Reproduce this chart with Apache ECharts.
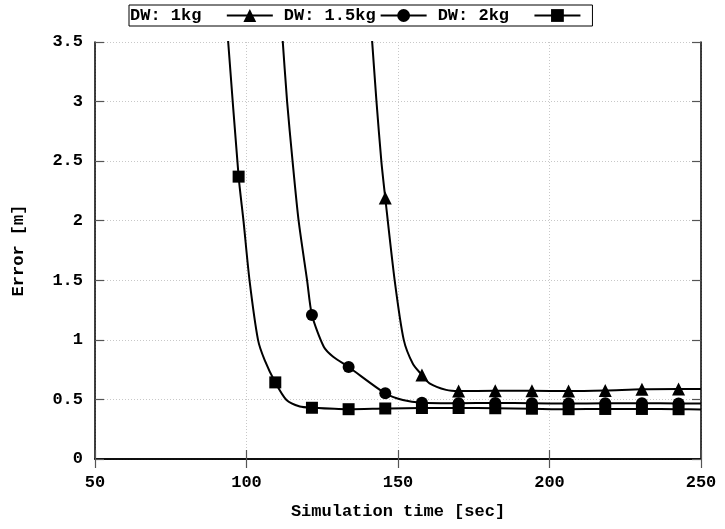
<!DOCTYPE html>
<html>
<head>
<meta charset="utf-8">
<script src="https://cdn.jsdelivr.net/npm/echarts@6/dist/echarts.min.js"></script>
<style>
html,body{margin:0;padding:0;background:#fff;}
#chart{width:725px;height:529px;}
</style>
</head>
<body>
<div id="chart"></div>
<script>
// Times (sec) at which markers are drawn
const markerTimes = [97.4, 109.5, 121.6, 133.7, 145.8, 157.9, 170.0, 182.1, 194.2, 206.3, 218.4, 230.5, 242.6];

// DW: 1kg (triangles)
const t1kg = [141.2, 142.9, 144.5, 145.8, 148.9, 151.9, 154.9, 157.9, 160.4, 165.9, 170.0, 182.1, 194.2, 206.3, 218.4, 230.5, 242.6, 250];
const e1kg = [3.6, 3.0, 2.5, 2.19, 1.5, 1.0, 0.80, 0.705, 0.635, 0.58, 0.57, 0.572, 0.573, 0.57, 0.575, 0.585, 0.587, 0.587];

// DW: 1.5kg (circles)
const t15kg = [111.7, 113.4, 115.2, 117.2, 120.0, 121.6, 125.5, 128.6, 133.7, 145.8, 151.6, 157.9, 170.0, 182.1, 194.2, 206.3, 218.4, 230.5, 242.6, 250];
const e15kg = [3.6, 3.0, 2.5, 2.0, 1.5, 1.208, 0.942, 0.858, 0.772, 0.551, 0.495, 0.472, 0.468, 0.47, 0.468, 0.465, 0.467, 0.468, 0.466, 0.465];

// DW: 2kg (squares)
const t2kg = [93.6, 97.4, 99.0, 101.0, 103.8, 106.0, 109.5, 113.2, 117.6, 121.6, 133.7, 145.8, 157.9, 170.0, 182.1, 194.2, 206.3, 218.4, 230.5, 242.6, 250];
const e2kg = [3.62, 2.37, 2.0, 1.5, 1.0, 0.83, 0.643, 0.495, 0.44, 0.43, 0.418, 0.424, 0.428, 0.428, 0.426, 0.422, 0.418, 0.42, 0.42, 0.418, 0.416];

const seriesNames = ['DW: 1kg', 'DW: 1.5kg', 'DW: 2kg'];
const xTicks = {min: 50, max: 250, step: 50};
const yTicks = {min: 0, max: 3.5, step: 0.5};

const FONT = 'Liberation Mono';

function build(ts, es) {
  return ts.map(function (t, i) {
    if (markerTimes.indexOf(t) >= 0) return [t, es[i]];
    return {value: [t, es[i]], symbol: 'none'};
  });
}

function lineSeries(name, sym, ts, es) {
  return {
    name: name,
    type: 'line',
    xAxisIndex: 0,
    yAxisIndex: 0,
    data: build(ts, es),
    smooth: 0.25,
    symbol: sym,
    symbolSize: sym === 'triangle' ? 13 : 12,
    showSymbol: true,
    showAllSymbol: true,
    clip: true,
    lineStyle: {color: '#000', width: 2},
    itemStyle: {color: '#000'},
    emphasis: {disabled: true},
    animation: false
  };
}

const tickLabel = {fontFamily: FONT, fontWeight: 'bold', fontSize: 17, color: '#000'};
const axisLine = {show: true, lineStyle: {color: '#000', width: 1.5}};
const tick = {show: true, inside: true, length: 9, lineStyle: {color: '#555', width: 1.2}};
const split = {show: true, lineStyle: {color: '#c8c8c8', type: [1, 2], width: 1}};

const chart = echarts.init(document.getElementById('chart'), null, {renderer: 'canvas'});
chart.setOption({
  backgroundColor: '#fff',
  animation: false,
  grid: {left: 95, right: 24, top: 42, bottom: 70, containLabel: false},
  legend: {
    data: seriesNames,
    left: 129,
    top: 5,
    orient: 'horizontal',
    align: 'right',
    itemWidth: 46,
    itemHeight: 16,
    itemGap: 10,
    padding: [2, 11, 2, 1],
    borderColor: '#000',
    borderWidth: 1,
    formatter: function (n) { return n.padEnd(9, ' '); },
    textStyle: {fontFamily: FONT, fontWeight: 'bold', fontSize: 17, color: '#000'}
  },
  xAxis: [
    {
      type: 'value', position: 'bottom', min: xTicks.min, max: xTicks.max, interval: xTicks.step,
      name: 'Simulation time [sec]', nameLocation: 'middle', nameGap: 44,
      nameTextStyle: {fontFamily: FONT, fontWeight: 'bold', fontSize: 17, color: '#000'},
      axisLine: axisLine, axisTick: tick, splitLine: split,
      axisLabel: Object.assign({margin: 15}, tickLabel)
    },
    {
      type: 'value', position: 'top', min: xTicks.min, max: xTicks.max, interval: xTicks.step,
      axisLine: axisLine, axisTick: tick, splitLine: {show: false}, axisLabel: {show: false}
    }
  ],
  yAxis: [
    {
      type: 'value', position: 'left', min: yTicks.min, max: yTicks.max, interval: yTicks.step,
      name: 'Error [m]', nameLocation: 'middle', nameGap: 68, nameRotate: 90,
      nameTextStyle: {fontFamily: FONT, fontWeight: 'bold', fontSize: 17, color: '#000'},
      axisLine: axisLine, axisTick: tick, splitLine: split,
      axisLabel: Object.assign({margin: 12}, tickLabel)
    },
    {
      type: 'value', position: 'right', min: yTicks.min, max: yTicks.max, interval: yTicks.step,
      axisLine: axisLine, axisTick: tick, splitLine: {show: false}, axisLabel: {show: false}
    }
  ],
  series: [
    lineSeries(seriesNames[0], 'triangle', t1kg, e1kg),
    lineSeries(seriesNames[1], 'circle', t15kg, e15kg),
    lineSeries(seriesNames[2], 'rect', t2kg, e2kg)
  ]
});
</script>
</body>
</html>
